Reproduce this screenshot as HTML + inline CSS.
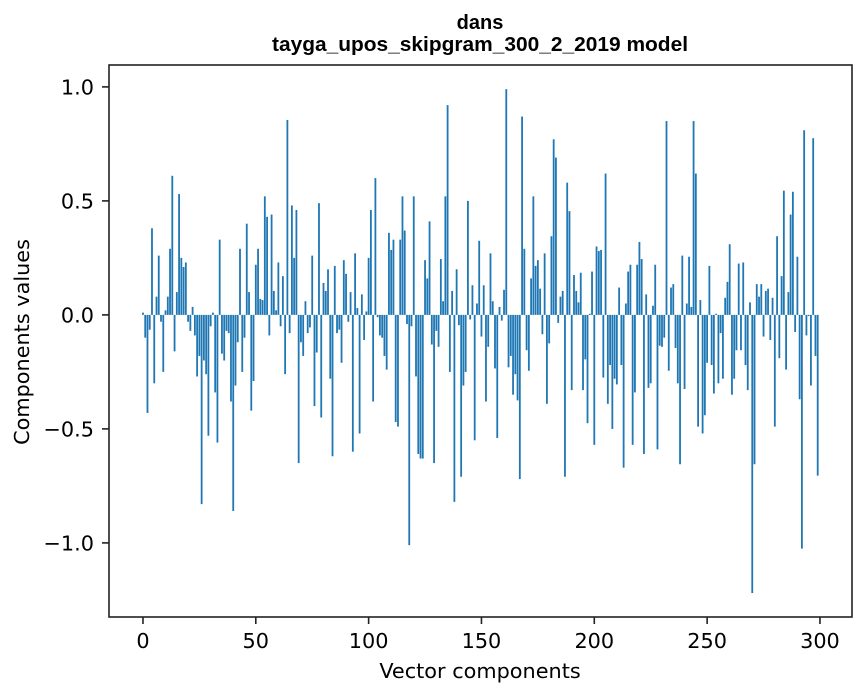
<!DOCTYPE html>
<html><head><meta charset="utf-8"><style>
body{margin:0;background:#fff}
svg{display:block;font-family:"DejaVu Sans","Liberation Sans",sans-serif}
</style></head><body>
<svg id="chart" width="867" height="696">
<text x="480" y="29" text-anchor="middle" font-size="20" font-weight="bold" style="font-family:'Liberation Sans',sans-serif">dans</text>
<text x="480" y="51" text-anchor="middle" font-size="20" font-weight="bold" textLength="416" lengthAdjust="spacingAndGlyphs" style="font-family:'Liberation Sans',sans-serif">tayga_upos_skipgram_300_2_2019 model</text>
<g id="bars"></g>
<g id="ticks"></g>
<rect x="109" y="65" width="743" height="552" fill="none" stroke="#222" stroke-width="1.6"/>
<text x="480" y="678" text-anchor="middle" font-size="20.8">Vector components</text>
<text transform="translate(29,342) rotate(-90)" text-anchor="middle" font-size="20.8">Components values</text>
</svg>
<script>
const values = [0.01,-0.10,-0.43,-0.065,0.38,-0.30,0.08,0.26,-0.03,-0.25,
0.02,0.08,0.29,0.61,-0.16,0.10,0.53,0.25,0.21,0.23,
-0.03,-0.07,0.035,-0.09,-0.27,-0.18,-0.83,-0.20,-0.26,-0.53,
-0.05,0.01,-0.34,-0.56,0.33,-0.17,-0.20,-0.07,-0.08,-0.38,
-0.86,-0.31,-0.12,0.29,-0.25,-0.10,0.40,0.10,-0.42,-0.29,
0.22,0.29,0.07,0.065,0.52,0.43,-0.09,0.44,0.105,0.02,
0.23,-0.05,0.17,-0.26,0.855,-0.08,0.48,0.25,0.46,-0.65,
-0.12,-0.18,0.06,-0.08,-0.055,0.26,-0.40,-0.165,0.49,-0.45,
0.14,0.105,0.20,-0.28,-0.62,0.215,-0.08,-0.065,-0.21,0.24,
0.18,-0.03,0.10,-0.60,0.27,0.03,-0.52,0.09,-0.11,0.015,
0.25,0.46,-0.38,0.60,-0.01,-0.09,-0.10,-0.18,-0.24,0.36,
0.285,0.33,-0.47,-0.49,0.33,0.52,0.37,-0.04,-1.01,-0.05,
0.52,-0.27,-0.61,-0.63,-0.63,0.24,0.16,0.41,-0.13,-0.65,
-0.07,-0.14,0.245,0.06,0.52,0.92,-0.25,0.105,-0.82,0.20,
-0.045,-0.71,-0.31,-0.25,0.50,-0.02,0.13,-0.55,0.05,0.325,
-0.095,0.13,-0.38,-0.14,0.27,0.06,-0.235,-0.54,0.035,-0.025,
0.11,0.99,-0.23,-0.18,-0.35,-0.26,-0.375,-0.72,0.87,0.29,
-0.155,-0.245,0.16,0.52,0.215,0.24,0.115,-0.085,0.27,-0.39,
-0.125,0.345,0.77,0.69,-0.035,0.08,0.105,-0.71,0.58,0.455,
-0.33,0.175,0.105,0.055,0.185,-0.33,-0.195,-0.475,0.005,0.19,
-0.57,0.30,0.28,0.285,-0.275,0.62,-0.39,-0.22,-0.50,-0.28,
-0.305,0.12,-0.22,-0.67,0.05,0.19,0.22,-0.57,-0.34,0.22,
0.32,0.245,-0.61,0.09,-0.32,-0.30,0.04,0.22,-0.59,-0.135,
-0.14,-0.10,0.85,-0.245,0.12,0.135,-0.145,-0.30,-0.655,0.26,
-0.325,0.05,0.255,0.035,0.85,0.62,-0.49,0.065,-0.52,-0.44,
-0.21,0.215,-0.22,-0.345,0.005,-0.30,-0.08,-0.28,0.075,0.145,
0.31,-0.35,-0.28,-0.155,0.225,-0.155,0.23,-0.22,-0.33,0.055,
-1.22,-0.655,0.135,0.08,0.135,-0.095,0.105,0.115,-0.11,0.075,
-0.49,0.345,-0.19,0.17,0.545,-0.24,0.10,0.44,0.54,-0.075,
0.255,-0.37,-1.025,0.81,-0.09,-0.005,-0.31,0.775,-0.18,-0.705];
const xTicks = [0,50,100,150,200,250,300];
const yTicks = [1.0,0.5,0.0,-0.5,-1.0];
const yTickLabels = ["1.0","0.5","0.0","\u22120.5","\u22121.0"];

const NS="http://www.w3.org/2000/svg";
const X0=109,X1=852,Y0=65,Y1=617,XMIN=-15.05,XMAX=314.2,YMIN=-1.325,YMAX=1.096;
function xs(v){return X0+(v-XMIN)/(XMAX-XMIN)*(X1-X0);}
function ys(v){return Y1-(v-YMIN)/(YMAX-YMIN)*(Y1-Y0);}
const bars=document.getElementById('bars');
values.forEach((v,i)=>{
  const r=document.createElementNS(NS,'rect');
  const xa=xs(i-0.4),xb=xs(i+0.4);
  const ya=ys(Math.max(v,0)),yb=ys(Math.min(v,0));
  r.setAttribute('x',xa);r.setAttribute('width',xb-xa);
  r.setAttribute('y',ya);r.setAttribute('height',Math.max(yb-ya,0.01));
  r.setAttribute('fill','#1f77b4');
  
  
  bars.appendChild(r);
});
const tg=document.getElementById('ticks');
xTicks.forEach(t=>{
  const x=xs(t);
  const l=document.createElementNS(NS,'line');
  l.setAttribute('x1',x);l.setAttribute('x2',x);l.setAttribute('y1',Y1);l.setAttribute('y2',Y1+7);
  l.setAttribute('stroke','#222');l.setAttribute('stroke-width','1.6');
  
  
  tg.appendChild(l);
  const tx=document.createElementNS(NS,'text');
  tx.setAttribute('x',x);tx.setAttribute('y',648);tx.setAttribute('text-anchor','middle');tx.setAttribute('font-size','20.8');
  tx.textContent=String(t);
  
  
  tg.appendChild(tx);
});
yTicks.forEach((t,k)=>{
  const y=ys(t);
  const l=document.createElementNS(NS,'line');
  l.setAttribute('x1',X0-7);l.setAttribute('x2',X0);l.setAttribute('y1',y);l.setAttribute('y2',y);
  l.setAttribute('stroke','#222');l.setAttribute('stroke-width','1.6');
  
  
  tg.appendChild(l);
  const tx=document.createElementNS(NS,'text');
  tx.setAttribute('x',X0-15);tx.setAttribute('y',y+7.5);tx.setAttribute('text-anchor','end');tx.setAttribute('font-size','20.8');
  tx.textContent=yTickLabels[k];
  
  
  tg.appendChild(tx);
});
</script>
</body></html>
